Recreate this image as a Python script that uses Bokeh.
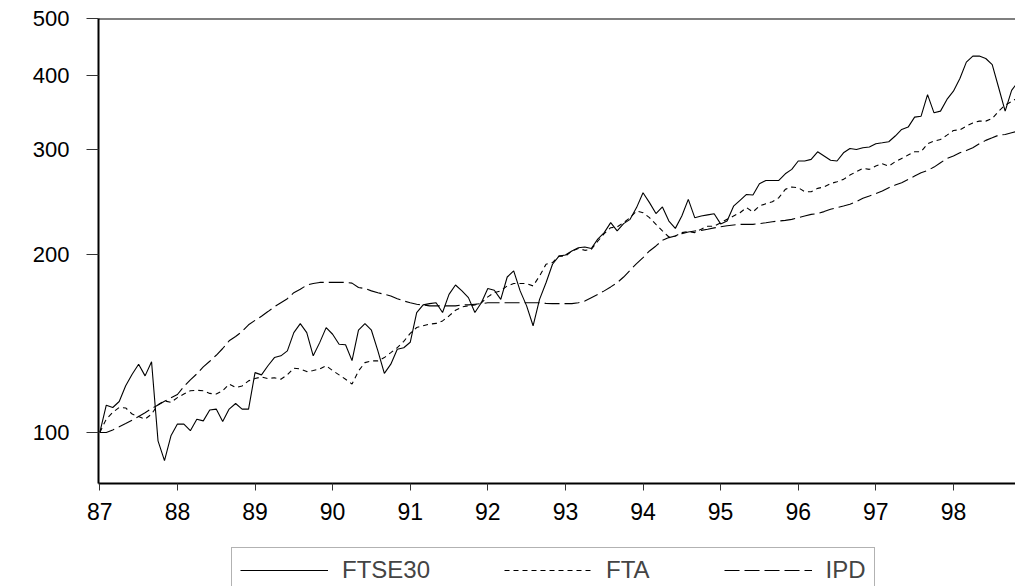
from bokeh.plotting import figure
from bokeh.layouts import column
from bokeh.models import (FixedTicker, NumeralTickFormatter, Legend, LegendItem,
                          Span, Range1d, ColumnDataSource)
from bokeh.embed import file_html
from bokeh.resources import INLINE

start_year = 87
ftse30 = [100, 111.2, 110.2, 112.8, 119.9, 125.4, 130.4, 124.6, 131.6, 96.8, 89.6, 98.7,
          103.3, 103.3, 100.7, 105.3, 104.6, 109.1, 109.5, 104.4, 109.5, 111.9, 109.5, 109.5,
          126.2, 125.1, 129.6, 133.8, 134.7, 137.3, 147.4, 152.7, 147.4, 134.7, 141.8, 150.3,
          146.5, 140.9, 140.6, 132.2, 148.8, 152.7, 148.8, 137.3, 125.8, 130.4, 138.2, 139.0,
          142.0, 159.4, 164.2, 165.0, 165.6, 159.4, 171.1, 177.4, 173.4, 168.9, 159.4, 165.6,
          175.0, 173.8, 167.8, 183.0, 187.4, 173.4, 163.6, 151.4, 167.8, 179.0, 192.3, 198.5,
          199.3, 202.5, 205.1, 205.7, 204.5, 212.0, 217.5, 226.1, 218.9, 225.2, 229.0, 239.7,
          254.0, 244.4, 234.2, 240.3, 227.5, 221.1, 232.0, 247.5, 230.5, 232.0, 233.0, 234.0,
          225.0, 227.5, 241.0, 246.6, 252.3, 251.7, 263.0, 266.4, 266.4, 266.4, 273.4, 278.1,
          287.3, 287.3, 289.1, 297.8, 292.9, 288.1, 287.3, 296.6, 301.7, 300.4, 302.5, 303.3,
          307.3, 308.4, 309.6, 316.6, 324.8, 327.8, 340.7, 342.0, 372.0, 346.5, 348.8, 365.0,
          376.9, 396.0, 422.0, 432.0, 432.0, 428.0, 418.0, 382.0, 348.8, 378.0, 391.0]
fta = [100, 105.3, 108.1, 110.2, 110.0, 107.4, 106.4, 105.3, 107.4, 111.4, 113.1, 112.4,
       114.5, 116.1, 117.6, 117.8, 117.6, 116.4, 116.1, 117.6, 120.7, 119.1, 119.8, 122.2,
       123.3, 124.1, 123.3, 123.7, 123.0, 125.1, 128.4, 128.0, 126.7, 127.2, 128.0, 129.6,
       127.2, 125.1, 123.0, 120.7, 127.0, 131.2, 132.1, 132.1, 133.8, 136.4, 139.1, 142.5,
       147.0, 150.4, 151.4, 152.4, 152.8, 154.3, 157.3, 160.8, 162.9, 163.6, 164.2, 165.6,
       169.4, 172.2, 173.4, 176.8, 178.4, 178.4, 178.4, 176.8, 183.7, 192.3, 193.6, 198.5,
       198.5, 202.5, 204.5, 203.0, 203.8, 210.3, 216.6, 221.7, 222.3, 226.1, 230.5, 236.6,
       235.0, 230.5, 224.6, 218.9, 213.8, 214.6, 217.5, 218.3, 217.5, 220.4, 223.0, 223.0,
       226.0, 229.0, 232.0, 235.0, 239.7, 235.7, 241.2, 243.4, 245.3, 249.1, 257.3, 259.7,
       259.0, 255.0, 255.0, 258.3, 259.7, 263.1, 265.1, 267.5, 272.0, 275.6, 279.2, 278.1,
       281.7, 284.3, 281.7, 286.5, 290.2, 294.0, 297.8, 297.8, 307.3, 310.4, 312.4, 317.7,
       323.5, 324.3, 329.0, 333.2, 335.5, 335.5, 339.0, 348.8, 357.0, 362.0, 368.0]
ipd = [100, 100, 101.0, 102.2, 103.5, 104.9, 106.4, 108.0, 109.7, 111.3, 112.9, 114.4,
       115.9, 119.5, 122.7, 125.6, 129.0, 131.9, 135.0, 138.6, 142.8, 145.2, 148.1, 152.0,
       154.6, 157.1, 160.0, 163.0, 165.6, 168.2, 172.2, 174.5, 177.3, 178.5, 179.2, 179.2,
       179.2, 179.2, 179.2, 178.7, 175.7, 175.0, 173.4, 172.2, 171.1, 170.0, 168.2, 166.7,
       165.6, 164.6, 164.2, 163.6, 163.6, 163.6, 163.6, 163.6, 164.2, 164.2, 164.6, 165.0,
       165.6, 165.6, 165.6, 165.6, 165.6, 165.6, 165.6, 165.6, 165.6, 165.2, 165.0, 165.0,
       165.0, 165.0, 165.6, 166.7, 168.9, 171.1, 173.4, 176.1, 179.0, 183.0, 187.9, 192.8,
       197.3, 202.5, 206.5, 211.1, 213.3, 214.6, 216.6, 218.0, 218.9, 219.4, 220.4, 221.5,
       222.5, 223.4, 224.0, 224.6, 224.6, 224.6, 225.2, 226.0, 226.9, 227.5, 228.1, 229.0,
       230.5, 232.0, 233.5, 234.2, 236.0, 238.1, 239.7, 241.2, 242.8, 245.3, 248.5, 250.7,
       253.0, 255.6, 259.0, 261.7, 264.1, 267.5, 271.0, 274.5, 276.9, 280.6, 285.4, 290.2,
       292.9, 296.6, 299.3, 302.5, 307.3, 311.3, 314.4, 317.7, 318.5, 320.6, 322.7]
x_ticks = [87, 88, 89, 90, 91, 92, 93, 94, 95, 96, 97, 98]
y_ticks = [100, 200, 300, 400, 500]
series_names = ["FTSE30", "FTA", "IPD"]

months = [start_year + i / 12 for i in range(len(ftse30))]
src = ColumnDataSource(dict(x=months, ftse30=ftse30, fta=fta, ipd=ipd))

FONT = "Liberation Sans"
W = 1015
styles = [dict(line_color="black", line_width=1.1),
          dict(line_color="black", line_width=1.1, line_dash="5 4"),
          dict(line_color="black", line_width=1.1, line_dash="15 5")]
cols = ["ftse30", "fta", "ipd"]

# main chart
p = figure(width=W, height=530, y_axis_type="log",
           x_range=Range1d(86.983, 98.80), y_range=Range1d(82, 500),
           output_backend="svg", toolbar_location=None,
           min_border_left=98, min_border_right=0, min_border_top=18,
           min_border_bottom=47)
p.grid.visible = False
p.outline_line_color = None
p.background_fill_color = "white"
p.border_fill_color = "white"

for c, st in zip(cols, styles):
    p.line("x", c, source=src, **st)

for ax in (p.xaxis[0], p.yaxis[0]):
    ax.axis_line_width = 2
    ax.axis_line_color = "black"
    ax.major_tick_line_color = "#333333"
    ax.major_tick_line_width = 1
    ax.major_tick_in = 0
    ax.minor_tick_line_color = None
    ax.major_label_text_font = FONT
    ax.major_label_text_color = "black"

p.xaxis.ticker = FixedTicker(ticks=x_ticks)
p.xaxis.formatter = NumeralTickFormatter(format="0")
p.xaxis.major_tick_out = 7
p.xaxis.major_label_standoff = 12
p.xaxis.major_label_text_font_size = "23px"

p.yaxis.ticker = FixedTicker(ticks=y_ticks)
p.yaxis.formatter = NumeralTickFormatter(format="0")
p.yaxis.major_tick_out = 12
p.yaxis.major_label_standoff = 17
p.yaxis.major_label_text_font_size = "22px"

p.add_layout(Span(location=500, dimension="width", line_color="black", line_width=2))

# legend strip below the chart (no axes, frame fills the strip)
lg = figure(width=W, height=56, x_range=p.x_range, y_range=Range1d(0, 1),
            x_axis_location=None, y_axis_location=None,
            output_backend="svg", toolbar_location=None,
            min_border_left=0, min_border_right=0, min_border_top=0,
            min_border_bottom=0)
lg.grid.visible = False
lg.outline_line_color = None
lg.background_fill_color = "white"
lg.border_fill_color = "white"
rs = [lg.line("x", c, source=src, **st) for c, st in zip(cols, styles)]

legend = Legend(items=[LegendItem(label=n, renderers=[r]) for n, r in zip(series_names, rs)],
                orientation="horizontal", location=(133, -7), margin=0,
                glyph_width=88, glyph_height=20, label_standoff=14, spacing=74,
                padding=8, label_text_font=FONT, label_text_font_size="24px",
                border_line_color="#666666", border_line_width=1.5,
                background_fill_color="white", background_fill_alpha=1.0)
lg.add_layout(legend)

layout = column(p, lg, spacing=0)
open("out.html", "w").write(file_html(layout, INLINE))
